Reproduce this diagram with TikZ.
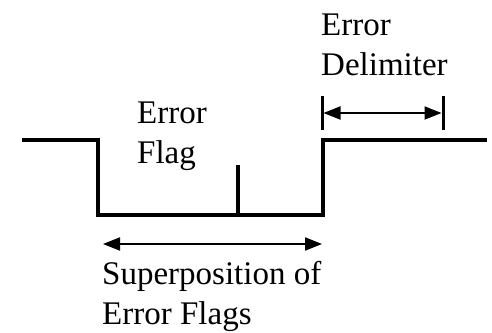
\documentclass[tikz,border=0pt]{standalone}
\usepackage{fontspec}
\setmainfont{Liberation Serif}
\usetikzlibrary{arrows.meta}

\begin{document}
\begin{tikzpicture}[
  x=1pt, y=-1pt,
  sig/.style={line width=4pt, line join=miter},
  mark line/.style={line width=3pt},
  span/.style={{Triangle[length=17pt,width=13pt]}-{Triangle[length=17pt,width=13pt]}, line width=2pt},
  lbl/.style={font=\fontsize{33}{40}\selectfont, align=left, inner sep=0pt, anchor=base west}
]
  \useasboundingbox (0,0) rectangle (492,332);
  %% --- Signal levels ---
  \coordinate (idle) at (22,140);
  \coordinate (fall) at (98,140);
  \coordinate (lowA) at (98,215);
  \coordinate (lowB) at (323,215);
  \coordinate (rise) at (323,140);
  \coordinate (bus)  at (487,140);
  \coordinate (sepbot) at (238,215);
  \coordinate (septop) at (238,165);
  \draw[sig] (idle) -- (fall) -- (lowA) -- (lowB) -- (rise) -- (bus);
  \draw[sig] (sepbot) -- (septop);
  %% --- Delimiter marks ---
  \coordinate (dlA) at (322,96);
  \coordinate (dlB) at (322,130);
  \coordinate (drA) at (443,96);
  \coordinate (drB) at (443,130);
  \draw[mark line] (dlA) -- (dlB);
  \draw[mark line] (drA) -- (drB);
  \coordinate (dl) at (323.5,113);
  \coordinate (dr) at (441.5,113);
  \draw[span] (dl) -- (dr);
  %% --- Superposition span ---
  \coordinate (sl) at (103,244);
  \coordinate (sr) at (322,244);
  \draw[span] (sl) -- (sr);
  %% --- Labels (anchored on the last line) ---
  \node[lbl] (flag) at (137,163) {Error\\Flag};
  \node[lbl] (delim) at (321,75) {Error\\Delimiter};
  \node[lbl] (super) at (102,324) {Superposition of\\Error Flags};
\end{tikzpicture}
\end{document}
